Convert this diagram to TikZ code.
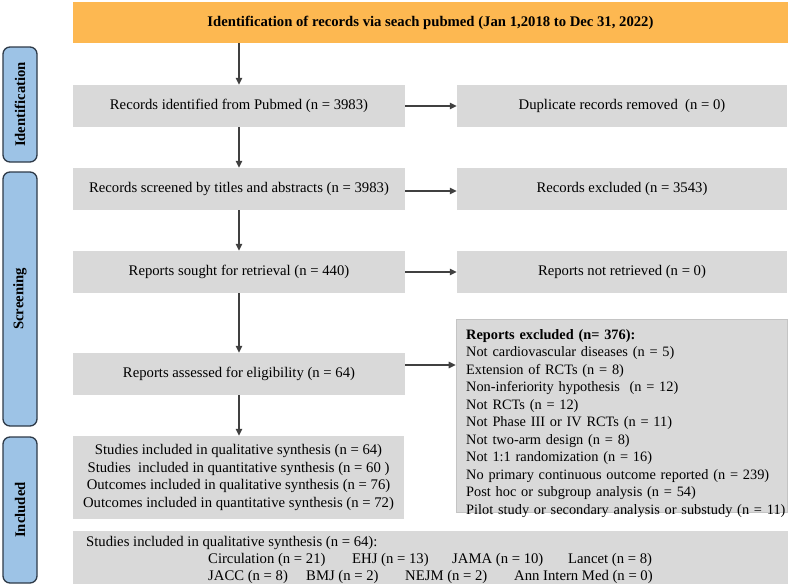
\documentclass[tikz,border=0pt]{standalone}
\usepackage{fontspec}
\setmainfont{Liberation Serif}
\usetikzlibrary{arrows.meta,positioning}
\definecolor{HeadOrange}{HTML}{FDB851}
\definecolor{BoxGray}{HTML}{D9D9D9}
\definecolor{EdgeGray}{HTML}{C4C4C4}
\definecolor{StageBlue}{HTML}{9DC3E6}
\definecolor{StageEdge}{HTML}{2E3A48}
\definecolor{ArrowGray}{HTML}{404040}

\begin{document}
\begin{tikzpicture}[
    x=1pt, y=-1pt,
    font=\fontsize{14.7}{17.5}\selectfont,
    head/.style={
        fill=HeadOrange,
        font=\fontsize{14.7}{17.5}\selectfont\bfseries,
        inner sep=0pt,
        minimum width=715pt,
        minimum height=41pt
    },
    box/.style={
        fill=BoxGray,
        align=center,
        inner sep=0pt,
        minimum width=332pt,
        minimum height=42pt
    },
    side/.style={
        fill=BoxGray,
        align=center,
        inner sep=0pt,
        minimum width=330pt,
        minimum height=42pt
    },
    stage/.style={
        draw=StageEdge,
        fill=StageBlue,
        line width=1.3pt,
        rounded corners=7pt,
        minimum width=34pt,
        inner sep=0pt
    },
    stagetext/.style={
        font=\fontsize{14.7}{17.5}\selectfont\bfseries,
        rotate=90
    },
    jtext/.style={
        anchor=base west,
        inner sep=0pt
    },
    arrow/.style={
        -{Triangle[length=7pt,width=6.5pt]},
        line width=1.2pt,
        draw=ArrowGray
    }
]

% Canvas
\useasboundingbox (0,0) rectangle (790,587);

% Title
\node[head] (title) at (430.5,22.5)
{Identification of records via seach pubmed (Jan 1,2018 to Dec 31, 2022)};

% Stage labels
\node[stage, minimum height=115pt] (stageid) at (20,104.5) {};
\node[stagetext] at (stageid.center) {Identification};

\node[stage, minimum height=254pt] (stagescr) at (20,299) {};
\node[stagetext] at (stagescr.center) {Screening};

\node[stage, minimum height=146pt] (stageinc) at (20,510) {};
\node[stagetext] at (stageinc.center) {Included};

% Main column
\node[box] (ident) at (239,106) {Records identified from Pubmed (n = 3983)};
\node[box] (screen) at (239,189) {Records screened by titles and abstracts (n = 3983)};
\node[box] (sought) at (239,272) {Reports sought for retrieval (n = 440)};
\node[box] (assess) at (239,374) {Reports assessed for eligibility (n = 64)};

\node[box, minimum width=331pt, minimum height=83pt] (incl) at (238.5,477.5)
{Studies included in qualitative synthesis (n = 64)\\
Studies\ \ included in quantitative synthesis (n = 60 )\\
Outcomes included in qualitative synthesis (n = 76)\\
Outcomes included in quantitative synthesis (n = 72)};

% Side column
\node[side] (dup) at (622,106) {Duplicate records removed\ \ (n = 0)};
\node[side] (excl) at (622,189) {Records excluded (n = 3543)};
\node[side] (notret) at (622,272) {Reports not retrieved (n = 0)};

\node[side, draw=EdgeGray, line width=0.6pt, minimum width=331pt,
      minimum height=193pt] (repexcl) at (621.5,415.5) {};
\node[anchor=north west, inner sep=0pt, align=left, text width=330pt,
      font=\fontsize{14.35}{17.5}\selectfont] (repexcltext) at (466,329)
{\textbf{Reports excluded (n= 376):}\\
Not cardiovascular diseases (n = 5)\\
Extension of RCTs (n = 8)\\
Non-inferiority hypothesis\ \ (n = 12)\\
Not RCTs (n = 12)\\
Not Phase III or IV RCTs (n = 11)\\
Not two-arm design (n = 8)\\
Not 1:1 randomization (n = 16)\\
No primary continuous outcome reported (n = 239)\\
Post hoc or subgroup analysis (n = 54)\\
Pilot study or secondary analysis or substudy (n = 11)};

% Journals
\node[box, minimum width=715pt, minimum height=53pt] (journals) at (430.5,557.5) {};
\node[jtext] (jhead) at (86,546) {Studies included in qualitative synthesis (n = 64):};
\node[jtext] (jcirc) at (208,563) {Circulation (n = 21)};
\node[jtext] (jehj) at (352,563) {EHJ (n = 13)};
\node[jtext] (jjama) at (452,563) {JAMA (n = 10)};
\node[jtext] (jlancet) at (568,563) {Lancet (n = 8)};
\node[jtext] (jjacc) at (208,580) {JACC (n = 8)};
\node[jtext] (jbmj) at (306,580) {BMJ (n = 2)};
\node[jtext] (jnejm) at (405,580) {NEJM (n = 2)};
\node[jtext] (jaim) at (514,580) {Ann Intern Med (n = 0)};

% Arrows
\draw[arrow] (title.south -| ident.north) -- (ident.north);
\draw[arrow] (ident.south) -- (screen.north);
\draw[arrow] (screen.south) -- (sought.north);
\draw[arrow] (sought.south) -- (assess.north);
\draw[arrow] (assess.south) -- (incl.north -| assess.south);

\draw[arrow] (ident.east) -- (dup.west);
\draw[arrow] ([yshift=-2pt]screen.east) -- ([yshift=-2pt]screen.east -| excl.west);
\draw[arrow] (sought.east) -- (notret.west);
\draw[arrow] ([yshift=9pt]assess.east) -- ([yshift=9pt]assess.east -| repexcl.west);

\end{tikzpicture}
\end{document}
